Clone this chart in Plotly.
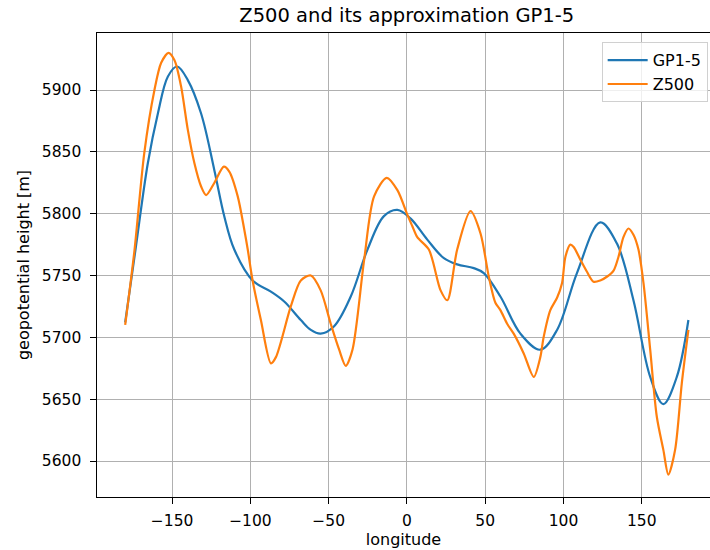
import plotly.graph_objects as go

# GP1-5 approximation (smooth)
gp_lon = [-180, -173.4, -165.5, -159.1, -152.7, -146.8, -140, -131.5, -123,
          -116.7, -110.3, -98.6, -86.9, -78.4, -67.8, -61.4, -55.1, -46.5, -35.9,
          -25.2, -14.7, -6.1, 2.4, 13, 23.6, 32.1, 42.7, 49.1, 59.7,
          72.5, 85.2, 95.9, 108.6, 123.5, 134.1, 144.7, 155.4, 163.8, 172.4, 179.8]
gp_val = [5712, 5771, 5841, 5881, 5911, 5919, 5908, 5881, 5835,
          5798, 5771, 5746, 5737, 5729, 5714, 5706, 5703, 5709, 5733,
          5771, 5798, 5803, 5796, 5779, 5764, 5759, 5756, 5752, 5733,
          5703, 5690, 5706, 5752, 5793, 5776, 5730, 5668, 5646, 5668, 5714]

# Z500 field
z_lon = [-180, -174, -167.8, -161.3, -157, -152.3, -148.5, -144.3, -140, -135.8,
         -131.5, -128.3, -123, -117, -113.5, -108.1, -103.9, -101.7, -98.6, -93.3,
         -86.9, -83.7, -74.2, -67.8, -61.4, -55.1, -48.7, -43.3, -39.1, -34.8,
         -27.4, -21, -12.9, -6.1, 0.3, 3.4, 6.6, 14, 21.5, 25.8,
         32.1, 40.6, 47, 52.3, 56.5, 59.7, 64, 68.2, 74.6, 81,
         85.2, 87.3, 91.6, 95.9, 99.1, 101.2, 104.4, 106.5, 110.7, 115,
         119.2, 123.5, 127.7, 132, 135.1, 138.3, 141.5, 144.7, 147.9, 151.1,
         155.4, 159.6, 163.8, 167, 171.3, 175.6, 179.8]
z_val = [5710, 5771, 5849, 5900, 5922, 5930, 5924, 5903, 5868, 5841,
         5822, 5815, 5825, 5838, 5834, 5814, 5787, 5771, 5746, 5714,
         5679, 5684, 5725, 5746, 5750, 5738, 5711, 5690, 5677, 5690,
         5762, 5814, 5829, 5819, 5799, 5790, 5781, 5771, 5738, 5730,
         5771, 5802, 5784, 5749, 5728, 5722, 5711, 5703, 5687, 5668,
         5684, 5700, 5722, 5732, 5744, 5765, 5775, 5773, 5763, 5753,
         5745, 5746, 5749, 5754, 5765, 5781, 5788, 5783, 5771, 5744,
         5690, 5636, 5609, 5589, 5609, 5663, 5706]

x_ticks = [-150, -100, -50, 0, 50, 100, 150]
y_ticks = [5600, 5650, 5700, 5750, 5800, 5850, 5900]

FONT = "DejaVu Sans"

fig = go.Figure()
fig.add_trace(go.Scatter(x=gp_lon, y=gp_val, mode="lines", name="GP1-5",
                         line=dict(color="#1f77b4", width=2.2, shape="spline", smoothing=1.0)))
fig.add_trace(go.Scatter(x=z_lon, y=z_val, mode="lines", name="Z500",
                         line=dict(color="#ff7f0e", width=2.2, shape="spline", smoothing=0.8)))

axis_common = dict(
    showgrid=True, gridcolor="#b0b0b0", gridwidth=1.3,
    zeroline=False, showline=True, linecolor="black", linewidth=1.3,
    ticks="outside", ticklen=5.5, tickwidth=1.3, tickcolor="black",
    tickfont=dict(family=FONT, size=15.5, color="black"),
)

fig.update_layout(
    width=710, height=550,
    margin=dict(l=97, r=0, t=33, b=53),
    paper_bgcolor="white", plot_bgcolor="white",
    font=dict(family=FONT, color="black"),
    title=dict(text="Z500 and its approximation GP1-5", x=406.8 / 710, xref="container",
               xanchor="center", y=1 - 15.5 / 550, yanchor="middle",
               font=dict(family=FONT, size=19.5, color="black")),
    xaxis=dict(range=[-198, 193.6], tickvals=x_ticks, mirror=True,
               title=dict(text="longitude", font=dict(family=FONT, size=16), standoff=4),
               ticklabelstandoff=4, **axis_common),
    yaxis=dict(range=[5570.9, 5946.1], tickvals=y_ticks, mirror=False,
               title=dict(text="geopotential height [m]", font=dict(family=FONT, size=16), standoff=8),
               ticklabelstandoff=6, **axis_common),
    legend=dict(x=0.9962, y=0.98, xanchor="right", yanchor="top",
                itemwidth=40, tracegroupgap=0,
                bgcolor="rgba(255,255,255,0.8)", bordercolor="#d0d0d0", borderwidth=1,
                font=dict(family=FONT, size=16, color="black")),
    showlegend=True,
)

fig.write_html("out.html")
